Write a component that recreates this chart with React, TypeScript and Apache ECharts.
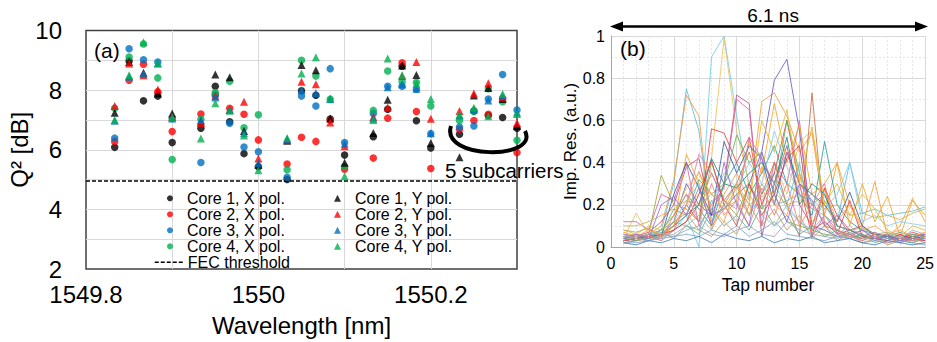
import React, { useEffect, useRef } from "react";
import * as echarts from "echarts";

// ---------- Panel (a) data ----------
const wavelengths = [
  1549.8333, 1549.85, 1549.8667, 1549.8833, 1549.9,
  1549.9333, 1549.95, 1549.9667, 1549.9833, 1550.0,
  1550.0333, 1550.05, 1550.0667, 1550.0833, 1550.1,
  1550.1333, 1550.15, 1550.1667, 1550.1833, 1550.2,
  1550.2333, 1550.25, 1550.2667, 1550.2833, 1550.3,
];
const core1X = [6.08, 8.98, 7.64, 7.8, 6.24, 6.72, 8.13, 6.94, 5.87, 5.43, 5.0, 7.98, 7.83, 7.03, 5.82, 6.44, 7.36, 8.8, 6.97, 6.06, 6.52, 7.3, 7.15, 7.08, 6.72];
const core2X = [6.28, 8.33, 8.87, 7.94, 6.61, 7.2, 7.85, 7.39, 7.19, 6.33, 5.52, 6.42, 6.28, 7.0, 5.35, 5.72, 7.06, 8.92, 7.28, 5.37, 6.69, 6.98, 7.19, 7.72, 5.91];
const core3X = [6.39, 9.39, 9.02, 8.94, 7.05, 5.57, 7.81, 6.89, 6.09, 5.93, 5.08, 7.8, 7.47, 8.72, 6.24, 7.22, 8.13, 8.13, 8.03, 6.54, 6.76, 6.8, 7.7, 8.52, 7.33];
const core4X = [7.39, 9.11, 9.55, 8.41, 5.67, 7.02, 7.92, 8.3, 6.74, 7.17, 5.33, 9.0, 8.47, 7.69, 5.44, 7.32, 8.64, 8.28, 8.26, 7.47, 6.98, 7.28, 8.05, 7.61, 6.32];
const core1Y = [7.24, 8.94, 8.58, 7.89, 7.22, 6.95, 8.52, 8.43, 6.63, 5.5, 6.3, 8.84, 8.67, 7.05, 5.56, 6.56, 7.68, 8.83, 8.51, 6.23, 5.75, 7.82, 8.07, 7.7, 6.8];
const core2Y = [7.47, 8.89, 8.5, 8.02, 7.1, 6.9, 7.8, 7.35, 7.61, 5.71, 6.33, 8.28, 8.2, 6.91, 6.12, 7.1, 7.42, 8.47, 8.94, 7.04, 7.3, 7.89, 8.23, 7.75, 6.9];
const core3Y = [6.97, 8.45, 8.55, 8.89, 7.05, 7.0, 7.75, 7.33, 6.55, 5.55, 6.35, 8.0, 7.9, 7.7, 6.2, 7.05, 8.1, 8.2, 8.05, 6.55, 7.15, 7.35, 7.65, 7.8, 7.25];
const core4Y = [7.0, 8.5, 9.61, 8.9, 7.08, 6.38, 7.56, 7.31, 6.48, 5.31, 6.39, 8.56, 9.1, 7.72, 5.11, 7.0, 9.06, 8.5, 8.22, 7.7, 7.17, 7.41, 7.12, 7.87, 7.2];
const fecThreshold = 4.95;

const xPolNames = ["Core 1, X pol.", "Core 2, X pol.", "Core 3, X pol.", "Core 4, X pol."];
const yPolNames = ["Core 1, Y pol.", "Core 2, Y pol.", "Core 3, Y pol.", "Core 4, Y pol."];
const coreColors = ["#000000", "#ff0000", "#0070c0", "#00b050"];

// ---------- Panel (b) data ----------
const taps = [1, 2, 3, 4, 5, 6, 7, 8, 9, 10, 11, 12, 13, 14, 15, 16, 17, 18, 19, 20, 21, 22, 23, 24, 25];
const tapLines: number[][] = [
  [0.03, 0.04, 0.05, 0.04, 0.08, 0.15, 0.0, 0.9, 1.0, 0.62, 0.28, 0.22, 0.3, 0.18, 0.12, 0.06, 0.1, 0.05, 0.06, 0.04, 0.05, 0.03, 0.04, 0.05, 0.04],
  [0.04, 0.16, 0.06, 0.05, 0.1, 0.2, 0.25, 0.42, 0.99, 0.55, 0.3, 0.18, 0.4, 0.25, 0.5, 0.55, 0.2, 0.1, 0.08, 0.06, 0.04, 0.05, 0.03, 0.06, 0.05],
  [0.05, 0.06, 0.04, 0.08, 0.3, 0.75, 0.55, 0.12, 0.2, 0.3, 0.15, 0.25, 0.35, 0.2, 0.4, 0.1, 0.22, 0.12, 0.4, 0.16, 0.18, 0.15, 0.16, 0.17, 0.19],
  [0.04, 0.05, 0.06, 0.1, 0.32, 0.72, 0.62, 0.08, 0.25, 0.35, 0.22, 0.69, 0.73, 0.62, 0.45, 0.54, 0.15, 0.4, 0.2, 0.1, 0.31, 0.05, 0.1, 0.23, 0.12],
  [0.02, 0.03, 0.04, 0.06, 0.12, 0.3, 0.2, 0.15, 0.18, 0.25, 0.3, 0.45, 0.79, 0.89, 0.55, 0.1, 0.08, 0.05, 0.04, 0.06, 0.03, 0.05, 0.02, 0.04, 0.03],
  [0.06, 0.05, 0.07, 0.12, 0.2, 0.38, 0.42, 0.15, 0.3, 0.72, 0.68, 0.05, 0.3, 0.48, 0.2, 0.1, 0.28, 0.06, 0.08, 0.05, 0.07, 0.04, 0.06, 0.03, 0.05],
  [0.12, 0.12, 0.08, 0.25, 0.22, 0.4, 0.1, 0.2, 0.28, 0.7, 0.65, 0.1, 0.4, 0.3, 0.6, 0.05, 0.15, 0.08, 0.05, 0.04, 0.06, 0.05, 0.03, 0.05, 0.04],
  [0.03, 0.04, 0.05, 0.03, 0.08, 0.12, 0.2, 0.35, 0.22, 0.3, 0.45, 0.25, 0.4, 0.2, 0.05, 0.73, 0.1, 0.08, 0.06, 0.04, 0.05, 0.06, 0.04, 0.05, 0.06],
  [0.05, 0.04, 0.06, 0.08, 0.15, 0.25, 0.18, 0.1, 0.3, 0.4, 0.25, 0.35, 0.48, 0.3, 0.25, 0.15, 0.5, 0.2, 0.12, 0.08, 0.06, 0.05, 0.07, 0.05, 0.06],
  [0.04, 0.03, 0.05, 0.06, 0.1, 0.2, 0.12, 0.56, 0.54, 0.4, 0.52, 0.2, 0.35, 0.6, 0.3, 0.05, 0.28, 0.15, 0.08, 0.1, 0.05, 0.06, 0.04, 0.07, 0.05],
  [0.03, 0.05, 0.04, 0.06, 0.18, 0.15, 0.32, 0.25, 0.3, 0.53, 0.4, 0.45, 0.25, 0.6, 0.35, 0.2, 0.25, 0.1, 0.08, 0.06, 0.04, 0.05, 0.03, 0.04, 0.05],
  [0.02, 0.03, 0.04, 0.05, 0.1, 0.44, 0.3, 0.1, 0.18, 0.22, 0.5, 0.35, 0.68, 0.4, 0.58, 0.25, 0.3, 0.4, 0.1, 0.3, 0.12, 0.24, 0.05, 0.22, 0.15],
  [0.04, 0.05, 0.06, 0.05, 0.12, 0.22, 0.3, 0.2, 0.35, 0.28, 0.4, 0.3, 0.55, 0.38, 0.25, 0.22, 0.18, 0.25, 0.4, 0.12, 0.15, 0.1, 0.12, 0.11, 0.1],
  [0.05, 0.04, 0.06, 0.34, 0.2, 0.18, 0.12, 0.4, 0.22, 0.15, 0.3, 0.18, 0.25, 0.12, 0.1, 0.08, 0.06, 0.05, 0.07, 0.04, 0.06, 0.05, 0.04, 0.03, 0.05],
  [0.03, 0.04, 0.03, 0.05, 0.25, 0.4, 0.28, 0.15, 0.5, 0.35, 0.48, 0.42, 0.2, 0.45, 0.3, 0.25, 0.2, 0.12, 0.26, 0.1, 0.06, 0.05, 0.04, 0.06, 0.05],
  [0.08, 0.06, 0.1, 0.08, 0.15, 0.28, 0.35, 0.25, 0.2, 0.3, 0.2, 0.6, 0.45, 0.65, 0.3, 0.57, 0.2, 0.3, 0.15, 0.25, 0.18, 0.08, 0.05, 0.1, 0.08],
  [0.04, 0.05, 0.04, 0.06, 0.1, 0.15, 0.2, 0.42, 0.3, 0.28, 0.35, 0.4, 0.3, 0.52, 0.2, 0.3, 0.25, 0.1, 0.08, 0.05, 0.04, 0.06, 0.03, 0.05, 0.04],
  [0.03, 0.04, 0.06, 0.05, 0.08, 0.2, 0.44, 0.35, 0.22, 0.18, 0.52, 0.42, 0.3, 0.45, 0.25, 0.2, 0.3, 0.06, 0.05, 0.08, 0.04, 0.03, 0.05, 0.02, 0.04],
  [0.05, 0.06, 0.05, 0.08, 0.12, 0.1, 0.08, 0.22, 0.18, 0.25, 0.15, 0.3, 0.2, 0.22, 0.25, 0.18, 0.15, 0.1, 0.08, 0.09, 0.06, 0.07, 0.05, 0.06, 0.05],
  [0.02, 0.02, 0.03, 0.04, 0.05, 0.06, 0.05, 0.08, 0.06, 0.1, 0.05, 0.08, 0.12, 0.06, 0.05, 0.04, 0.03, 0.05, 0.04, 0.02, 0.03, 0.02, 0.03, 0.02, 0.01],
  [0.06, 0.05, 0.04, 0.06, 0.05, 0.08, 0.1, 0.06, 0.05, 0.08, 0.1, 0.06, 0.05, 0.12, 0.08, 0.06, 0.05, 0.04, 0.06, 0.03, 0.05, 0.04, 0.05, 0.03, 0.04],
  [0.03, 0.04, 0.05, 0.06, 0.08, 0.12, 0.25, 0.41, 0.2, 0.1, 0.3, 0.15, 0.25, 0.42, 0.48, 0.08, 0.12, 0.06, 0.22, 0.05, 0.04, 0.03, 0.06, 0.04, 0.03],
  [0.04, 0.03, 0.05, 0.07, 0.04, 0.1, 0.06, 0.18, 0.1, 0.15, 0.08, 0.2, 0.1, 0.15, 0.06, 0.1, 0.05, 0.08, 0.04, 0.06, 0.02, 0.04, 0.03, 0.02, 0.05],
  [0.08, 0.07, 0.09, 0.05, 0.12, 0.16, 0.08, 0.05, 0.12, 0.06, 0.2, 0.1, 0.18, 0.08, 0.15, 0.04, 0.1, 0.03, 0.06, 0.02, 0.04, 0.01, 0.03, 0.04, 0.02],
  [0.05, 0.04, 0.03, 0.05, 0.06, 0.1, 0.15, 0.08, 0.2, 0.12, 0.25, 0.15, 0.1, 0.2, 0.12, 0.08, 0.15, 0.06, 0.1, 0.04, 0.05, 0.06, 0.04, 0.08, 0.06],
  [0.03, 0.06, 0.05, 0.04, 0.15, 0.25, 0.12, 0.3, 0.15, 0.22, 0.1, 0.28, 0.15, 0.3, 0.1, 0.2, 0.12, 0.08, 0.05, 0.03, 0.06, 0.02, 0.04, 0.03, 0.05],
  [0.1, 0.1, 0.12, 0.15, 0.18, 0.22, 0.2, 0.25, 0.18, 0.28, 0.2, 0.24, 0.26, 0.2, 0.22, 0.25, 0.18, 0.2, 0.15, 0.16, 0.14, 0.15, 0.13, 0.16, 0.18],
  [0.02, 0.01, 0.03, 0.02, 0.04, 0.03, 0.05, 0.02, 0.06, 0.04, 0.03, 0.05, 0.02, 0.04, 0.03, 0.05, 0.02, 0.03, 0.04, 0.02, 0.01, 0.03, 0.02, 0.01, 0.02],
  [0.07, 0.05, 0.08, 0.06, 0.1, 0.2, 0.36, 0.18, 0.12, 0.3, 0.15, 0.38, 0.2, 0.15, 0.35, 0.1, 0.27, 0.12, 0.2, 0.08, 0.1, 0.06, 0.08, 0.05, 0.07],
  [0.04, 0.06, 0.04, 0.2, 0.24, 0.15, 0.28, 0.1, 0.4, 0.2, 0.1, 0.45, 0.25, 0.12, 0.3, 0.22, 0.1, 0.15, 0.06, 0.08, 0.04, 0.05, 0.03, 0.04, 0.06],
];
const tapColors = [
  "#6fcfe0", "#f0c060", "#5bc0de", "#f39c3c", "#6a5acd", "#c0508a", "#d46aa0", "#c8704a",
  "#2aa198", "#e0474c", "#5cb85c", "#f5a623", "#87ceeb", "#9aa83a", "#3c5aa8", "#e8b830",
  "#1f8a8a", "#e07aa0", "#8fb08f", "#7aa6d8", "#a0a0c8", "#d0404a", "#60b0a0", "#c0a060",
  "#b0b0b0", "#f08080", "#c8b060", "#4682b4", "#ff9f40", "#9370db",
];

const FONT = "Liberation Sans";

export default function App() {
  const ref = useRef<HTMLDivElement>(null);
  useEffect(() => {
    if (!ref.current) return;
    const chart = echarts.init(ref.current, undefined, { renderer: "svg" });

    const xSeries = [core1X, core2X, core3X, core4X];
    const ySeries = [core1Y, core2Y, core3Y, core4Y];
    const series: any[] = [];
    xSeries.forEach((vals, i) => {
      series.push({
        type: "scatter",
        name: xPolNames[i],
        xAxisIndex: 0,
        yAxisIndex: 0,
        symbol: "circle",
        symbolSize: 7.5,
        clip: false,
        itemStyle: { color: coreColors[i] },
        data: wavelengths.map((w, j) => [w, vals[j]]),
        z: 3,
      });
    });
    ySeries.forEach((vals, i) => {
      series.push({
        type: "scatter",
        name: yPolNames[i],
        xAxisIndex: 0,
        yAxisIndex: 0,
        symbol: "triangle",
        symbolSize: 8,
        clip: false,
        itemStyle: { color: coreColors[i] },
        data: wavelengths.map((w, j) => [w, vals[j]]),
        z: 3,
      });
    });
    series.push({
      type: "line",
      name: "FEC threshold",
      xAxisIndex: 0,
      yAxisIndex: 0,
      symbol: "none",
      data: [
        [1549.8, fecThreshold],
        [1550.3, fecThreshold],
      ],
      lineStyle: { color: "#000", width: 1.5, type: [4, 2] },
      itemStyle: { color: "#000" },
      z: 2,
    });
    tapLines.forEach((vals, i) => {
      series.push({
        type: "line",
        name: "tap" + i,
        xAxisIndex: 1,
        yAxisIndex: 1,
        symbol: "none",
        data: taps.map((t, j) => [t, vals[j]]),
        lineStyle: { color: tapColors[i % tapColors.length], width: 1, opacity: 0.85 },
        itemStyle: { color: tapColors[i % tapColors.length] },
      });
    });

    const legendText = (pad: number) => ({
      fontSize: 16,
      lineHeight: 16,
      color: "#000",
      fontFamily: FONT,
      padding: [0, 0, 0, pad],
    });

    const option: any = {
      animation: false,
      backgroundColor: "#fff",
      textStyle: { fontFamily: FONT },
      grid: [
        { left: 86, top: 30.5, width: 431, height: 240, show: true, borderColor: "#404040", borderWidth: 1.5, backgroundColor: "transparent" },
        { left: 611, top: 36, width: 316, height: 211 },
      ],
      xAxis: [
        {
          gridIndex: 0,
          type: "value",
          min: 1549.8,
          max: 1550.3,
          interval: 0.1,
          axisLine: { show: false },
          axisTick: { show: false },
          axisLabel: {
            fontSize: 24,
            color: "#000",
            margin: 13,
            formatter: (v: number) => {
              const r = Math.round(v * 10);
              return r % 2 === 0 ? String(r / 10) : "";
            },
          },
          splitLine: { show: true, showMinLine: false, showMaxLine: false, lineStyle: { color: "#d9d9d9", width: 1 } },
          name: "Wavelength [nm]",
          nameLocation: "middle",
          nameGap: 44,
          nameTextStyle: { fontSize: 24, color: "#000", fontFamily: FONT },
        },
        {
          gridIndex: 1,
          type: "value",
          min: 0,
          max: 25,
          interval: 5,
          axisLine: { show: true, lineStyle: { color: "#a6a6a6", width: 1 } },
          axisTick: { show: false },
          axisLabel: { fontSize: 16, color: "#000", margin: 8 },
          splitLine: { show: true, lineStyle: { color: "#d9d9d9", width: 1 } },
          minorTick: { show: false, splitNumber: 5 },
          minorSplitLine: { show: true, lineStyle: { color: "#e6e6e6", width: 1, type: [2, 2] } },
          name: "Tap number",
          nameLocation: "middle",
          nameGap: 24,
          nameTextStyle: { fontSize: 17.5, color: "#000", fontFamily: FONT },
        },
      ],
      yAxis: [
        {
          gridIndex: 0,
          type: "value",
          min: 2,
          max: 10,
          interval: 1,
          axisLine: { show: false },
          axisTick: { show: false },
          axisLabel: {
            fontSize: 24,
            color: "#000",
            margin: 24,
            formatter: (v: number) => (Math.round(v) % 2 === 0 ? String(Math.round(v)) : ""),
          },
          splitLine: { show: true, showMinLine: false, showMaxLine: false, lineStyle: { color: "#d9d9d9", width: 1 } },
          name: "Q² [dB]",
          nameLocation: "middle",
          nameRotate: 90,
          nameGap: 49,
          nameTextStyle: { fontSize: 24, color: "#000", fontFamily: FONT },
        },
        {
          gridIndex: 1,
          type: "value",
          min: 0,
          max: 1,
          interval: 0.2,
          axisLine: { show: true, lineStyle: { color: "#a6a6a6", width: 1 } },
          axisTick: { show: false },
          axisLabel: { fontSize: 16, color: "#000", margin: 6 },
          splitLine: { show: true, lineStyle: { color: "#d9d9d9", width: 1 } },
          minorTick: { show: false, splitNumber: 2 },
          minorSplitLine: { show: true, lineStyle: { color: "#e6e6e6", width: 1, type: [2, 2] } },
          name: "Imp. Res. (a.u.)",
          nameLocation: "middle",
          nameRotate: 90,
          nameGap: 30,
          nameTextStyle: { fontSize: 17, color: "#000", fontFamily: FONT },
        },
      ],
      legend: [
        {
          data: xPolNames,
          orient: "vertical",
          left: 167,
          top: 190.3,
          itemWidth: 6,
          itemHeight: 6,
          itemGap: 0,
          padding: 0,
          selectedMode: false,
          textStyle: legendText(9),
        },
        {
          data: yPolNames,
          orient: "vertical",
          left: 334,
          top: 190.3,
          itemWidth: 7,
          itemHeight: 7,
          itemGap: 0,
          padding: 0,
          selectedMode: false,
          textStyle: legendText(9),
        },
        {
          data: ["FEC threshold"],
          orient: "vertical",
          left: 154,
          top: 254.3,
          itemWidth: 28,
          itemHeight: 6,
          itemGap: 0,
          padding: 0,
          selectedMode: false,
          textStyle: legendText(0),
          itemStyle: { opacity: 0 },
          lineStyle: { type: [4, 2], width: 1.5, color: "#000" },
        },
      ],
      graphic: [
        { type: "text", x: 94, y: 50, z: 10, style: { text: "(a)", fontSize: 21, fontFamily: FONT, fill: "#000", align: "left", verticalAlign: "middle" } },
        { type: "text", x: 620, y: 48, z: 10, style: { text: "(b)", fontSize: 21, fontFamily: FONT, fill: "#000", align: "left", verticalAlign: "middle" } },
        { type: "text", x: 773, y: 15, z: 10, style: { text: "6.1 ns", fontSize: 19, fontFamily: FONT, fill: "#000", align: "center", verticalAlign: "middle" } },
        { type: "line", z: 10, shape: { x1: 618, y1: 26.5, x2: 920, y2: 26.5 }, style: { stroke: "#000", lineWidth: 2.5 } },
        { type: "polygon", z: 10, shape: { points: [[610, 26.5], [623, 21.5], [623, 31.5]] }, style: { fill: "#000" } },
        { type: "polygon", z: 10, shape: { points: [[928, 26.5], [915, 21.5], [915, 31.5]] }, style: { fill: "#000" } },
        {
          type: "bezierCurve",
          z: 10,
          shape: { x1: 451, y1: 126, cpx1: 440, cpy1: 160, cpx2: 540, cpy2: 160, x2: 525, y2: 131 },
          style: { stroke: "#000", lineWidth: 4, fill: "none" },
        },
        { type: "text", x: 445, y: 170, z: 10, style: { text: "5 subcarriers", fontSize: 20.5, fontFamily: FONT, fill: "#000", align: "left", verticalAlign: "middle" } },
      ],
      series,
    };
    chart.setOption(option);
    return () => chart.dispose();
  }, []);

  return (
    <div
      ref={ref}
      style={{ position: "absolute", left: 0, top: 0, width: 937, height: 342, background: "#fff" }}
    />
  );
}
